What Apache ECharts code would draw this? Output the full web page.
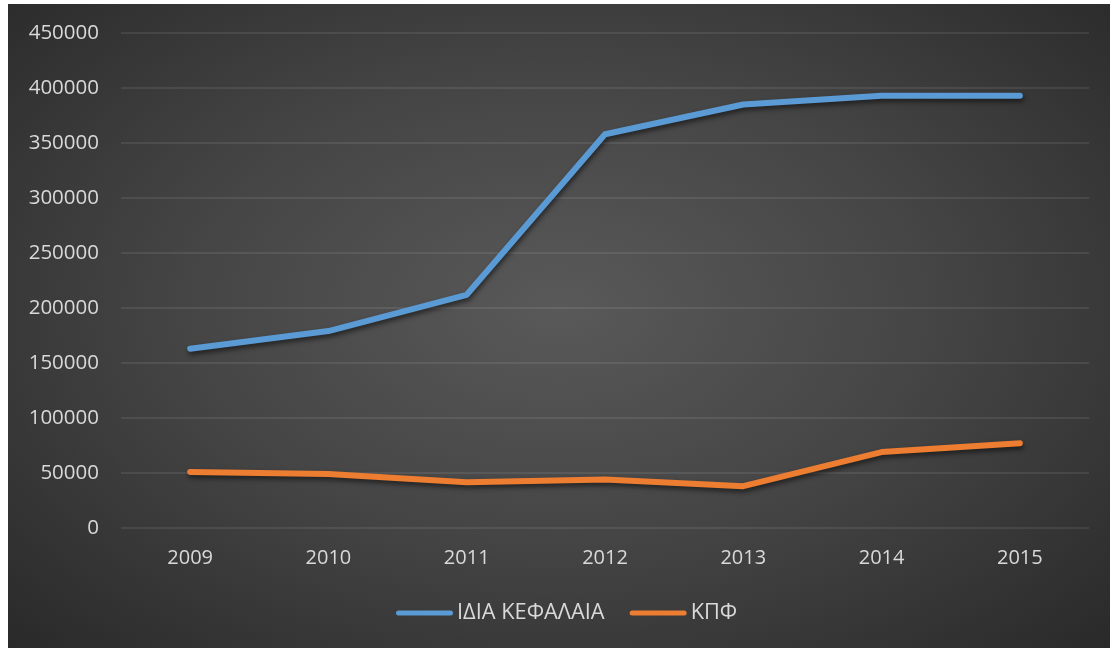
<!DOCTYPE html>
<html>
<head>
<meta charset="utf-8">
<script src="https://cdn.jsdelivr.net/npm/echarts@6/dist/echarts.min.js"></script>
<style>
  html, body { margin: 0; padding: 0; background: #ffffff; }
  #chart {
    position: absolute; left: 8px; top: 4px; width: 1102px; height: 644px;
    background: radial-gradient(ellipse 75% 80% at 50% 47%, #595959 0%, #454545 45%, #262626 100%);
  }
</style>
</head>
<body>
<div id="chart"></div>
<script>
// Years on the category axis
const years = ['2009', '2010', '2011', '2012', '2013', '2014', '2015'];
// Equity (ΙΔΙΑ ΚΕΦΑΛΑΙΑ) per year
const equity = [163000, 179000, 212000, 358000, 385000, 393000, 393000];
// ΚΠΦ per year
const kpf = [51000, 49000, 41500, 44000, 38000, 69000, 77000];
const seriesNames = ['ΙΔΙΑ ΚΕΦΑΛΑΙΑ', 'ΚΠΦ'];
const colors = ['#5B9BD5', '#ED7D31'];

const chart = echarts.init(document.getElementById('chart'), null, { renderer: 'canvas' });
const labelFont = { color: '#d9d9d9', fontFamily: 'Open Sans', fontSize: 20 };
const capsule = 'path://M2.5,0 H54.5 A2.5,2.5 0 0 1 54.5,5 H2.5 A2.5,2.5 0 0 1 2.5,0 Z';

function lineSeries(name, data, color) {
  return {
    name: name,
    type: 'line',
    data: data,
    symbol: 'none',
    color: color,
    lineStyle: {
      width: 6, color: color, cap: 'round', join: 'round',
      shadowColor: 'rgba(0,0,0,0.55)', shadowBlur: 5, shadowOffsetX: 1, shadowOffsetY: 3
    }
  };
}

chart.setOption({
  backgroundColor: 'transparent',
  animation: false,
  grid: { left: 113, top: 29, width: 968, height: 495 },
  xAxis: {
    type: 'category',
    data: years,
    boundaryGap: true,
    axisLine: { show: false },
    axisTick: { show: false },
    axisLabel: Object.assign({ margin: 20 }, labelFont)
  },
  yAxis: {
    type: 'value',
    min: 0, max: 450000, interval: 50000,
    axisLine: { show: false },
    axisTick: { show: false },
    axisLabel: Object.assign({ margin: 22, formatter: v => String(v) }, labelFont, { fontSize: 20.5 }),
    splitLine: { lineStyle: { color: 'rgba(255,255,255,0.11)', width: 1.5 } }
  },
  legend: {
    top: 593,
    left: 383,
    icon: capsule,
    itemWidth: 57,
    itemHeight: 5,
    itemGap: 25,
    textStyle: { color: '#d9d9d9', fontFamily: 'Open Sans', fontSize: 21.8, padding: [0, 0, 0, -1] },
    data: seriesNames
  },
  series: [
    lineSeries(seriesNames[0], equity, colors[0]),
    lineSeries(seriesNames[1], kpf, colors[1])
  ]
});
</script>
</body>
</html>
